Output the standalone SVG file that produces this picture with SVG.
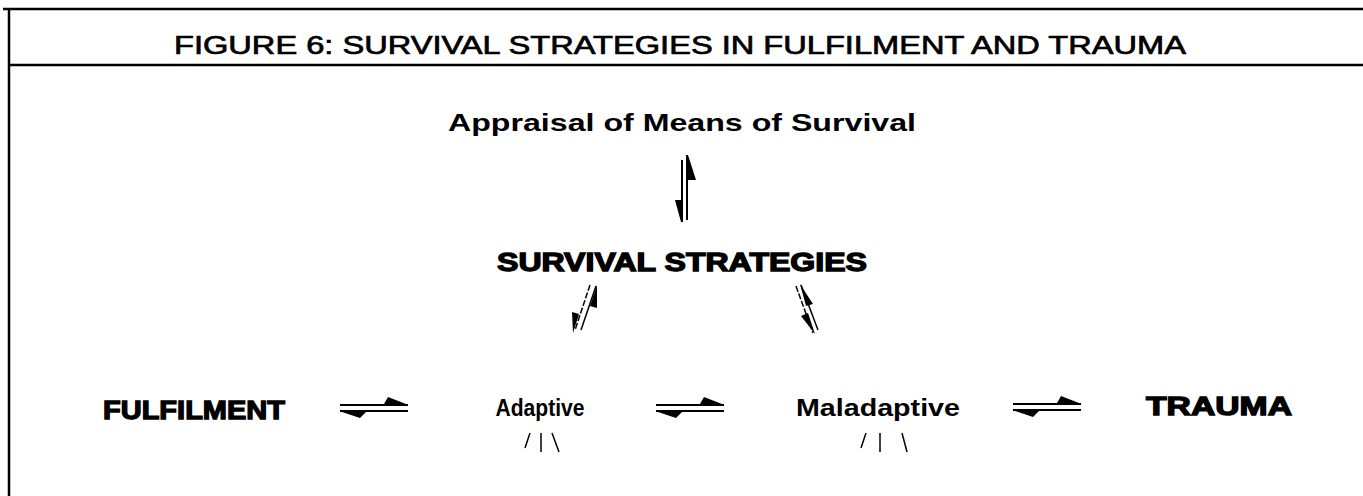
<svg xmlns="http://www.w3.org/2000/svg" width="1363" height="496" viewBox="0 0 1363 496">
<style>
.frame{stroke:#000;stroke-width:2.5;fill:none}
.ln{stroke:#000;stroke-width:2;fill:none}
.thin{stroke:#000;stroke-width:1.5;fill:none}
.barb{fill:#000;stroke:none}
.t{font-family:"Liberation Sans",Arial,sans-serif;font-weight:bold;fill:#000;text-anchor:middle}
.heavy{stroke:#000;stroke-width:1.3}
</style>
<defs>
<g id="eq">
<line x1="0" y1="0" x2="68" y2="0" class="ln"/>
<line x1="0" y1="6" x2="68" y2="6" class="ln"/>
<path d="M44,-1 L48,-8 L66,-1 Z" class="barb"/>
<path d="M2,7 L26,7 L20,13 Z" class="barb"/>
</g>
</defs>
<rect width="1363" height="496" fill="#fff"/>
<g id="frame">
<line x1="3" y1="9" x2="1363" y2="9" class="frame"/>
<line x1="9" y1="8" x2="9" y2="496" class="frame"/>
<line x1="9" y1="65" x2="1363" y2="65" class="frame"/>
</g>
<g id="title"><text class="t" x="680" y="54" font-size="25" textLength="1012" lengthAdjust="spacingAndGlyphs" style="font-weight:normal" stroke="#000" stroke-width="0.7">FIGURE 6: SURVIVAL STRATEGIES IN FULFILMENT AND TRAUMA</text></g>
<g id="appraisal"><text class="t" x="682" y="131" font-size="24" textLength="468" lengthAdjust="spacingAndGlyphs">Appraisal of Means of Survival</text></g>
<g id="strategies"><text class="t heavy" x="682" y="271" font-size="25" textLength="370" lengthAdjust="spacingAndGlyphs">SURVIVAL STRATEGIES</text></g>
<g id="fulfilment"><text class="t heavy" x="194" y="419" font-size="26" textLength="182" lengthAdjust="spacingAndGlyphs">FULFILMENT</text></g>
<g id="adaptive"><text class="t" x="540" y="416" font-size="24" textLength="89" lengthAdjust="spacingAndGlyphs">Adaptive</text></g>
<g id="maladaptive"><text class="t" x="878" y="416" font-size="24" textLength="164" lengthAdjust="spacingAndGlyphs">Maladaptive</text></g>
<g id="trauma"><text class="t heavy" x="1219" y="415" font-size="26" textLength="146" lengthAdjust="spacingAndGlyphs">TRAUMA</text></g>
<g id="connectors">
<line x1="687" y1="155" x2="687" y2="220" class="ln"/>
<line x1="682" y1="160" x2="682" y2="222" class="ln"/>
<path d="M688,155 L696,180 L688,180 Z" class="barb"/>
<path d="M681,222 L675,200 L681,200 Z" class="barb"/>
<line x1="590" y1="285" x2="575" y2="330" class="thin" stroke-dasharray="6,2"/>
<line x1="596" y1="286" x2="581" y2="330" class="thin"/>
<path d="M597,285 L597,308 L590,306 Z" class="barb"/>
<path d="M573,333 L572,312 L579,314 Z" class="barb"/>
<line x1="796" y1="286" x2="813" y2="333" class="thin" stroke-dasharray="6,2"/>
<line x1="801" y1="285" x2="818" y2="330" class="thin"/>
<path d="M800,284 L813,304 L806,306 Z" class="barb"/>
<path d="M815,334 L801,316 L808,313 Z" class="barb"/>
<use href="#eq" x="340" y="405"/>
<use href="#eq" x="656" y="405"/>
<use href="#eq" x="1013" y="404"/>
<line x1="530" y1="433" x2="525" y2="448" class="thin"/>
<line x1="541" y1="433" x2="541" y2="452" class="thin"/>
<line x1="552" y1="433" x2="559" y2="452" class="thin"/>
<line x1="866" y1="433" x2="861" y2="448" class="thin"/>
<line x1="880" y1="433" x2="880" y2="452" class="thin"/>
<line x1="902" y1="433" x2="907" y2="452" class="thin"/>
</g>
</svg>
